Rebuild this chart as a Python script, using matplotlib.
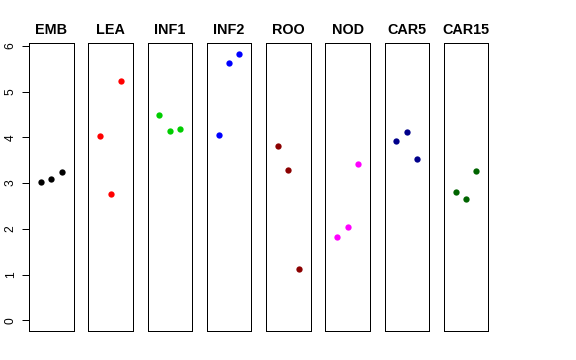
import matplotlib
matplotlib.use("Agg")
import matplotlib.pyplot as plt

categories = ["EMB", "LEA", "INF1", "INF2", "ROO", "NOD", "CAR5", "CAR15"]
values = [
    [3.02, 3.10, 3.25],
    [4.02, 2.77, 5.24],
    [4.48, 4.14, 4.18],
    [4.06, 5.63, 5.83],
    [3.82, 3.29, 1.12],
    [1.82, 2.03, 3.42],
    [3.93, 4.11, 3.52],
    [2.81, 2.65, 3.26],
]
colors = ["#000000", "#FF0000", "#00CD00", "#0000FF", "#8B0000", "#FF00FF", "#00008B", "#006400"]
yticks = [0, 1, 2, 3, 4, 5, 6]

plt.rcParams['font.family'] = ['Liberation Sans', 'DejaVu Sans']

W, H = 576, 360
fig = plt.figure(figsize=(W / 72, H / 72), dpi=72)

ymax = max(max(v) for v in values)
ylim = (-0.04 * ymax, ymax * 1.04)

left0 = 29.0
pw = 44.6
step = 59.25
top, bottom = 43.0, 331.0

for i, (cat, vals, col) in enumerate(zip(categories, values, colors)):
    x0 = left0 + i * step
    ax = fig.add_axes([x0 / W, 1 - bottom / H, pw / W, (bottom - top) / H])
    xs = list(range(1, len(vals) + 1))
    ax.plot(xs, vals, 'o', color=col, markersize=6.3, markeredgewidth=0)
    ax.set_xlim(-0.16, 4.16)
    ax.set_ylim(*ylim)
    ax.set_xticks([])
    for s in ax.spines.values():
        s.set_linewidth(1.0)
        s.set_color('black')
    ax.set_title(cat, fontsize=14.4, fontweight='bold', pad=9)
    if i == 0:
        ax.set_yticks(yticks)
        ax.set_yticklabels([str(t) for t in yticks], rotation=90, va='center', fontsize=12)
        ax.tick_params(axis='y', length=7.2, width=1, pad=5)
    else:
        ax.set_yticks([])

fig.savefig("out.png", dpi=72)
